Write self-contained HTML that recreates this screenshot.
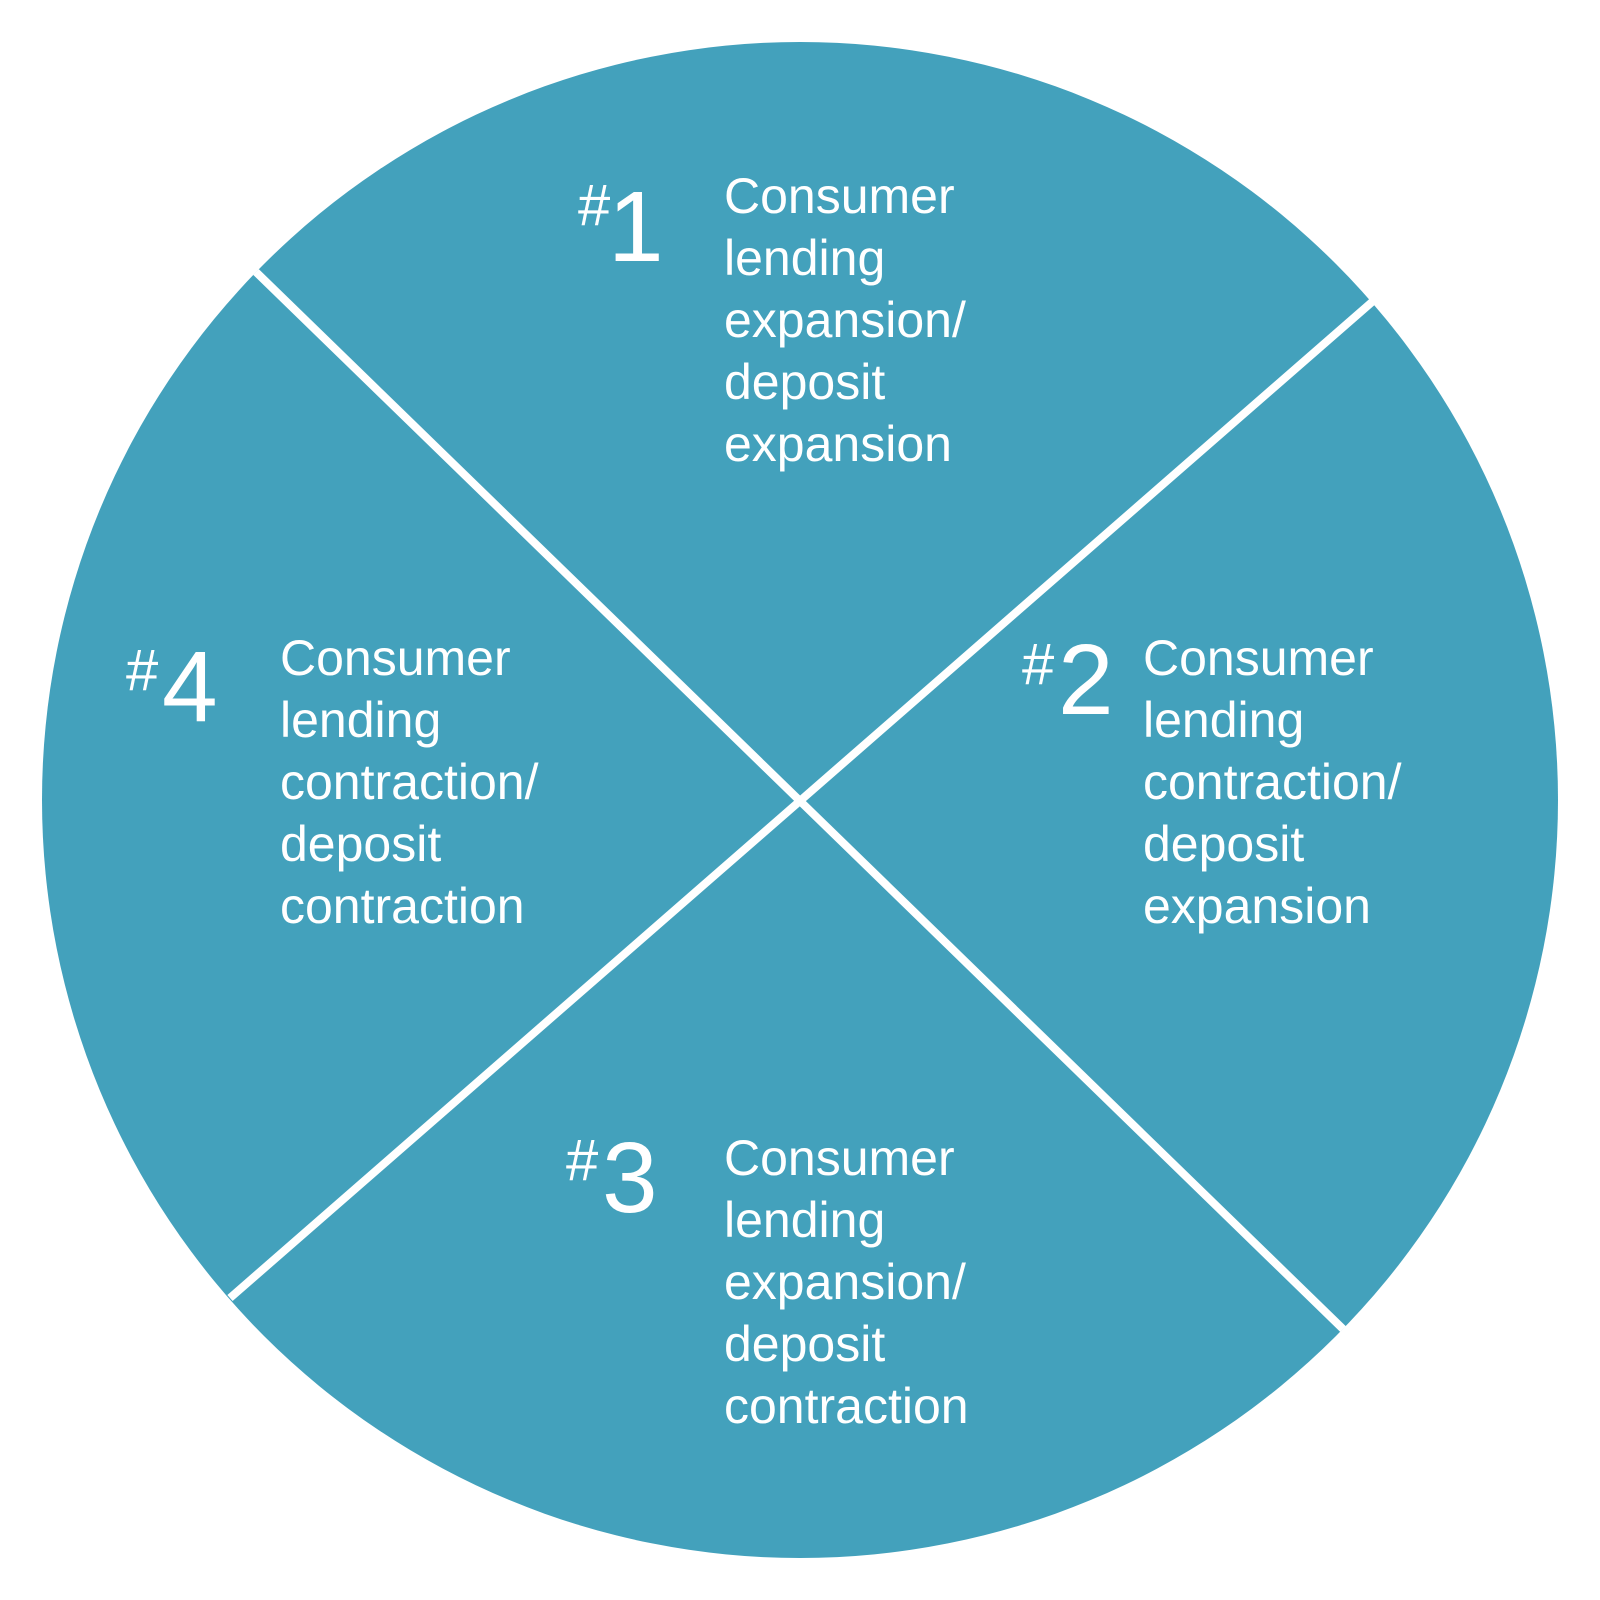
<!DOCTYPE html>
<html><head><meta charset="utf-8"><style>
html,body{margin:0;padding:0;background:#fff;width:1600px;height:1600px;overflow:hidden}
svg{display:block}
text{font-family:"Liberation Sans",sans-serif;fill:#fff}
</style></head><body>
<svg width="1600" height="1600" viewBox="0 0 1600 1600">
<circle cx="800" cy="800" r="758" fill="#43A1BC"/>
<line x1="256" y1="272" x2="1343" y2="1329" stroke="#fff" stroke-width="8"/>
<line x1="1372" y1="302" x2="230" y2="1298" stroke="#fff" stroke-width="8"/>
<g font-size="50">
<text x="724" y="213">Consumer</text>
<text x="724" y="275">lending</text>
<text x="724" y="337">expansion/</text>
<text x="724" y="399">deposit</text>
<text x="724" y="461">expansion</text>

<text x="280" y="675">Consumer</text>
<text x="280" y="737">lending</text>
<text x="280" y="799">contraction/</text>
<text x="280" y="861">deposit</text>
<text x="280" y="923">contraction</text>

<text x="1143" y="675">Consumer</text>
<text x="1143" y="737">lending</text>
<text x="1143" y="799">contraction/</text>
<text x="1143" y="861">deposit</text>
<text x="1143" y="923">expansion</text>

<text x="724" y="1175">Consumer</text>
<text x="724" y="1237">lending</text>
<text x="724" y="1299">expansion/</text>
<text x="724" y="1361">deposit</text>
<text x="724" y="1423">contraction</text>
</g>
<g>
<text x="578" y="225" font-size="58">#</text><text x="608" y="261" font-size="100">1</text>
<text x="126" y="690" font-size="58">#</text><text x="162" y="721" font-size="100">4</text>
<text x="1022" y="684" font-size="58">#</text><text x="1058" y="714" font-size="100">2</text>
<text x="566" y="1180" font-size="58">#</text><text x="602" y="1212" font-size="100">3</text>
</g>
</svg>
</body></html>
